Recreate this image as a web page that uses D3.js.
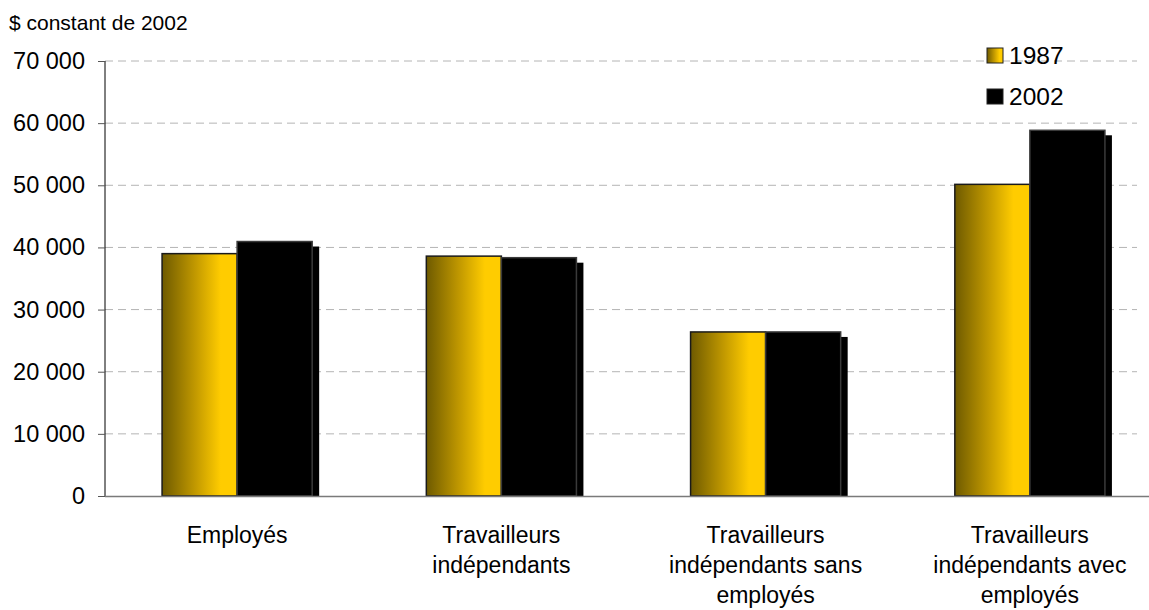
<!DOCTYPE html>
<html>
<head>
<meta charset="utf-8">
<script src="https://cdn.jsdelivr.net/npm/d3@7"></script>
<style>
  body { margin: 0; background: #fff; }
  svg { font-family: "Liberation Sans", Arial, Helvetica, sans-serif; }
</style>
</head>
<body>
<div id="mainDiv"></div>
<script>
'use strict';

// données
var categories = [
  ['Employés'],
  ['Travailleurs', 'indépendants'],
  ['Travailleurs', 'indépendants sans', 'employés'],
  ['Travailleurs', 'indépendants avec', 'employés']
];
var series = ['1987', '2002'];
var values1987 = [39000, 38600, 26400, 50150];
var values2002 = [40950, 38350, 26400, 58850];
var yTicks = [0, 10000, 20000, 30000, 40000, 50000, 60000, 70000];
var yTitle = '$ constant de 2002';

var chart = {};
chart.w = 1149;
chart.h = 610;
chart.left = 105;
chart.top = 61;
chart.bottom = 496;
chart.gridEnd = 1137;

chart.run = function()
{
    var svg = d3.select('#mainDiv').append('svg')
        .attr('width', chart.w)
        .attr('height', chart.h);

    var defs = svg.append('defs');
    var grad = defs.append('linearGradient')
        .attr('id', 'gold')
        .attr('x1', '0%').attr('x2', '100%')
        .attr('y1', '0%').attr('y2', '0%');
    grad.append('stop').attr('offset', '0%').attr('stop-color', '#6e5a00');
    grad.append('stop').attr('offset', '45%').attr('stop-color', '#c39a00');
    grad.append('stop').attr('offset', '78%').attr('stop-color', '#ffcc00');
    grad.append('stop').attr('offset', '100%').attr('stop-color', '#ffcc00');

    var keys = categories.map(function(d, i) { return i; });

    var x0 = d3.scaleBand().domain(keys).range([chart.left, 1162])
        .paddingInner(0.432).paddingOuter(0.216);
    var x1 = d3.scaleBand().domain(series).range([0, x0.bandwidth()]);
    var y = d3.scaleLinear().domain([0, 70000]).range([chart.bottom, chart.top]);

    // quadrillage
    svg.append('g').selectAll('line')
        .data(yTicks.slice(1))
        .enter().append('line')
        .attr('x1', chart.left).attr('x2', chart.gridEnd)
        .attr('y1', function(d) { return y(d); })
        .attr('y2', function(d) { return y(d); })
        .attr('stroke', '#b4b4b4')
        .attr('stroke-width', 1)
        .attr('stroke-dasharray', '8,5');

    // barres
    var rows = keys.map(function(i) {
        return [{s: '1987', v: values1987[i], c: i}, {s: '2002', v: values2002[i], c: i}];
    });

    var groups = svg.append('g').selectAll('g')
        .data(rows)
        .enter().append('g')
        .attr('transform', function(d, i) { return 'translate(' + x0(i) + ',0)'; });

    // ombre
    groups.selectAll('rect.shadow')
        .data(function(d) { return d; })
        .enter().append('rect')
        .attr('class', 'shadow')
        .attr('x', function(d) { return x1(d.s) + 7; })
        .attr('y', function(d) { return y(d.v) + 5; })
        .attr('width', x1.bandwidth())
        .attr('height', function(d) { return chart.bottom - y(d.v) - 5; })
        .attr('fill', '#000');

    groups.selectAll('rect.bar')
        .data(function(d) { return d; })
        .enter().append('rect')
        .attr('class', 'bar')
        .attr('x', function(d) { return x1(d.s); })
        .attr('y', function(d) { return y(d.v); })
        .attr('width', x1.bandwidth())
        .attr('height', function(d) { return chart.bottom - y(d.v); })
        .attr('fill', function(d) { return d.s === '1987' ? 'url(#gold)' : '#000'; })
        .attr('stroke', function(d) { return d.s === '1987' ? '#1a1a1a' : '#3a3a3a'; })
        .attr('stroke-width', 1.5);

    // axe y
    var yAxis = d3.axisLeft(y)
        .tickValues(yTicks)
        .tickSize(7)
        .tickPadding(13)
        .tickFormat(function(d) { return d3.format(',')(d).replace(/,/g, ' '); });

    var yg = svg.append('g')
        .attr('transform', 'translate(' + chart.left + ',0)')
        .call(yAxis);
    yg.select('.domain').attr('stroke', '#000').attr('d', 'M0,' + chart.top + 'V' + chart.bottom);
    yg.selectAll('.tick line').attr('stroke', '#555');
    yg.selectAll('.tick text')
        .attr('font-size', 23.5)
        .attr('fill', '#000')
        .attr('font-family', '"Liberation Sans", Arial, sans-serif');

    // ligne de base
    svg.append('line')
        .attr('x1', chart.left).attr('x2', chart.w)
        .attr('y1', chart.bottom + 0.5).attr('y2', chart.bottom + 0.5)
        .attr('stroke', '#7a7a7a')
        .attr('stroke-width', 1.5);

    // étiquettes x
    var labels = svg.append('g').selectAll('text')
        .data(categories)
        .enter().append('text')
        .attr('text-anchor', 'middle')
        .attr('font-size', 23)
        .attr('fill', '#000')
        .attr('x', function(d, i) { return x0(i) + x0.bandwidth() / 2; })
        .attr('y', 543);

    labels.selectAll('tspan')
        .data(function(d) { return d; })
        .enter().append('tspan')
        .attr('x', function() { return d3.select(this.parentNode).attr('x'); })
        .attr('dy', function(d, i) { return i === 0 ? 0 : 30; })
        .text(function(d) { return d; });

    // titre y
    svg.append('text')
        .attr('x', 9)
        .attr('y', 30)
        .attr('font-size', 21)
        .attr('fill', '#000')
        .text(yTitle);

    // légende
    var legend = svg.append('g').selectAll('g')
        .data(series)
        .enter().append('g')
        .attr('transform', function(d, i) { return 'translate(987,' + (48 + i * 41) + ')'; });

    legend.append('rect')
        .attr('width', 16).attr('height', 15)
        .attr('fill', function(d) { return d === '1987' ? 'url(#gold)' : '#000'; })
        .attr('stroke', '#222')
        .attr('stroke-width', 1);

    legend.append('text')
        .attr('x', 22)
        .attr('y', 16)
        .attr('font-size', 24.5)
        .attr('fill', '#000')
        .text(function(d) { return d; });
};

window.onload = chart.run;
</script>
</body>
</html>
